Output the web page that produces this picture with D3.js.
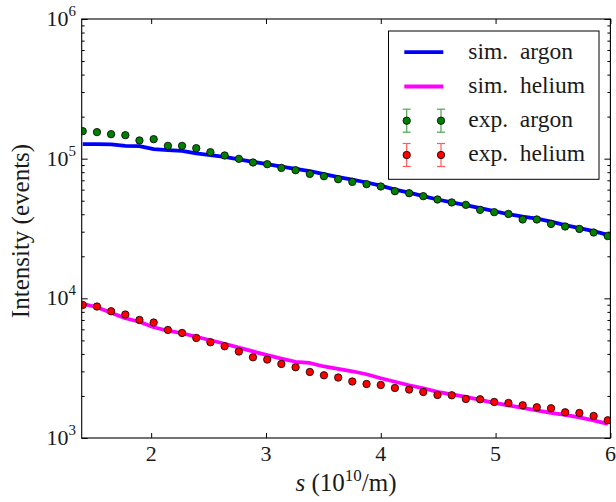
<!DOCTYPE html>
<html>
<head>
<meta charset="utf-8">
<script src="https://cdn.jsdelivr.net/npm/d3@7"></script>
<style>
  html, body { margin: 0; padding: 0; background: #fff; }
  svg { display: block; }
</style>
</head>
<body>
<svg id="chart" width="616" height="502"></svg>
<script>
// ---------------- data ----------------
const sValues = [1.404, 1.528, 1.651, 1.775, 1.898, 2.022, 2.146, 2.269, 2.393, 2.516,
  2.640, 2.764, 2.887, 3.011, 3.134, 3.258, 3.382, 3.505, 3.629, 3.752,
  3.876, 4.000, 4.123, 4.247, 4.370, 4.494, 4.618, 4.741, 4.865, 4.988,
  5.112, 5.236, 5.359, 5.483, 5.606, 5.730, 5.854, 5.977];

const simArgon = [127000, 127000, 126400, 123500, 122900, 117000, 115100, 113600, 109100, 106000,
  102900, 98700, 94900, 91500, 87600, 84400, 81400, 77400, 73700, 70700,
  67500, 64100, 60000, 57100, 53900, 51000, 48600, 46500, 44200, 42100,
  40000, 38400, 37200, 35400, 33400, 31800, 30300, 28500];

const simHelium = [9150, 8635, 7886, 7201, 6800, 6209, 5861, 5623, 5307, 5010,
  4729, 4441, 4166, 3925, 3705, 3514, 3445, 3252, 3131, 3005,
  2860, 2678, 2527, 2386, 2270, 2142, 2056, 1973, 1877, 1787,
  1715, 1646, 1579, 1515, 1466, 1407, 1339, 1264];

const expArgon = [157400, 154900, 149800, 147300, 135000, 137900, 123500, 123500, 118900, 111300,
  105400, 99700, 93900, 91300, 85900, 82700, 77800, 74900, 71300, 68200,
  65700, 63200, 58500, 56600, 53900, 51000, 48600, 46700, 43000, 41400,
  40200, 36700, 36700, 34100, 32700, 31400, 29600, 27900];

const expHelium = [8970, 8735, 8083, 7655, 7003, 6710, 5936, 5650, 5204, 4848,
  4539, 4158, 3785, 3644, 3390, 3210, 2970, 2813, 2709, 2539,
  2437, 2397, 2281, 2222, 2136, 2032, 2022, 1903, 1893, 1811,
  1781, 1715, 1660, 1633, 1528, 1511, 1438, 1339];

const xTicks = [2, 3, 4, 5, 6];
const yMajorTicks = [1e3, 1e4, 1e5, 1e6];
const yTickExponents = ["3", "4", "5", "6"];
const legendLabels = ["sim.\u2002argon", "sim.\u2002helium", "exp.\u2002argon", "exp.\u2002helium"];

// ---------------- layout ----------------
const L = 81.7, R = 610.4, T = 19, B = 438;
const FONT = "Liberation Serif";
const TXT = "#1a1a1a";
const svg = d3.select("#chart");

const x = d3.scaleLinear().domain([1.395, 6]).range([L, R]);
const y = d3.scaleLog().domain([1e3, 1e6]).range([B, T]);

const colors = { simArgon: "#0000ff", simHelium: "#ff00ff", expArgon: "#008000", expHelium: "#ff0000" };

svg.append("defs").append("clipPath").attr("id", "clip")
  .append("rect").attr("x", L).attr("y", T).attr("width", R - L).attr("height", B - T);

// minor y ticks
const yMinor = [];
for (let e = 3; e < 6; e++) for (let m = 2; m <= 9; m++) yMinor.push(m * Math.pow(10, e));

const axG = svg.append("g");
axG.append("g").attr("transform", `translate(0,${B})`)
  .call(d3.axisBottom(x).tickValues(xTicks).tickSizeInner(-5).tickSizeOuter(0).tickFormat(""));
axG.append("g").attr("transform", `translate(0,${T})`)
  .call(d3.axisTop(x).tickValues(xTicks).tickSizeInner(-5).tickSizeOuter(0).tickFormat(""));
axG.append("g").attr("transform", `translate(${L},0)`)
  .call(d3.axisLeft(y).tickValues(yMajorTicks).tickSizeInner(-6).tickSizeOuter(0).tickFormat(""));
axG.append("g").attr("transform", `translate(${L},0)`)
  .call(d3.axisLeft(y).tickValues(yMinor).tickSizeInner(-3).tickSizeOuter(0).tickFormat(""));
axG.append("g").attr("transform", `translate(${R},0)`)
  .call(d3.axisRight(y).tickValues(yMajorTicks).tickSizeInner(-6).tickSizeOuter(0).tickFormat(""));
axG.append("g").attr("transform", `translate(${R},0)`)
  .call(d3.axisRight(y).tickValues(yMinor).tickSizeInner(-3).tickSizeOuter(0).tickFormat(""));
axG.selectAll(".domain").remove();
axG.selectAll(".tick line").attr("stroke", "#000").attr("stroke-width", 1);

// x tick labels
svg.append("g").selectAll("text").data(xTicks).join("text")
  .attr("x", d => x(d)).attr("y", B + 22.5)
  .attr("text-anchor", "middle").attr("font-size", 22)
  .attr("font-family", FONT).attr("fill", TXT)
  .text(d => d);

// y tick labels
const ylab = svg.append("g").selectAll("text").data(yMajorTicks).join("text")
  .attr("x", 76).attr("y", d => y(d) + 7)
  .attr("text-anchor", "end").attr("font-size", 22)
  .attr("font-family", FONT).attr("fill", TXT);
ylab.append("tspan").text("10");
ylab.append("tspan").attr("dy", -10).attr("font-size", 15).text((d, i) => yTickExponents[i]);

// data lines
const plot = svg.append("g").attr("clip-path", "url(#clip)");
const line = d3.line().x((d, i) => x(sValues[i])).y(d => y(d));
plot.append("path").datum(simArgon).attr("d", line)
  .attr("fill", "none").attr("stroke", colors.simArgon).attr("stroke-width", 3.8).attr("stroke-linejoin", "round");
plot.append("path").datum(simHelium).attr("d", line)
  .attr("fill", "none").attr("stroke", colors.simHelium).attr("stroke-width", 3.8).attr("stroke-linejoin", "round");

// markers
function dots(vals, col) {
  plot.append("g").selectAll("circle").data(vals).join("circle")
    .attr("cx", (d, i) => x(sValues[i])).attr("cy", d => y(d)).attr("r", 3.7)
    .attr("fill", col).attr("stroke", "#000").attr("stroke-width", 0.8);
}
dots(expArgon, colors.expArgon);
dots(expHelium, colors.expHelium);

// frame
svg.append("rect").attr("x", L).attr("y", T).attr("width", R - L).attr("height", B - T)
  .attr("fill", "none").attr("stroke", "#000").attr("stroke-width", 1.1);

// axis labels
const xl = svg.append("text").attr("x", 346).attr("y", 491)
  .attr("text-anchor", "middle").attr("font-size", 25)
  .attr("font-family", FONT).attr("fill", TXT);
xl.append("tspan").attr("font-style", "italic").text("s");
xl.append("tspan").text(" (10");
xl.append("tspan").attr("dy", -10).attr("font-size", 17).text("10");
xl.append("tspan").attr("dy", 10).text("/m)");

svg.append("text").attr("transform", "translate(29,231) rotate(-90)")
  .attr("text-anchor", "middle").attr("font-size", 25)
  .attr("font-family", FONT).attr("fill", TXT)
  .text("Intensity (events)");

// legend
const lg = svg.append("g");
lg.append("rect").attr("x", 388.5).attr("y", 31).attr("width", 210.5).attr("height", 148.3)
  .attr("fill", "#fff").attr("stroke", "#000").attr("stroke-width", 1);
const rowBase = [58.5, 92.8, 127, 161.3];
const rowCols = [colors.simArgon, colors.simHelium, colors.expArgon, colors.expHelium];
const errCols = ["", "", "#4da64d", "#ff5a5a"];
legendLabels.forEach((lab, i) => {
  const cy = rowBase[i] - 6.3;
  if (i < 2) {
    lg.append("line").attr("x1", 404.3).attr("x2", 443.3).attr("y1", cy).attr("y2", cy)
      .attr("stroke", rowCols[i]).attr("stroke-width", 3.8);
  } else {
    [406.7, 441].forEach(mx => {
      lg.append("line").attr("x1", mx).attr("x2", mx).attr("y1", cy - 11.5).attr("y2", cy + 11.5)
        .attr("stroke", errCols[i]).attr("stroke-width", 1.2);
      [cy - 11.5, cy + 11.5].forEach(cyy => {
        lg.append("line").attr("x1", mx - 4).attr("x2", mx + 4).attr("y1", cyy).attr("y2", cyy)
          .attr("stroke", errCols[i]).attr("stroke-width", 1.2);
      });
      lg.append("circle").attr("cx", mx).attr("cy", cy).attr("r", 3.7)
        .attr("fill", rowCols[i]).attr("stroke", "#000").attr("stroke-width", 0.8);
    });
  }
  lg.append("text").attr("x", 468.3).attr("y", rowBase[i]).attr("font-size", 23.5)
    .attr("font-family", FONT).attr("fill", TXT).text(lab);
});
</script>
</body>
</html>
